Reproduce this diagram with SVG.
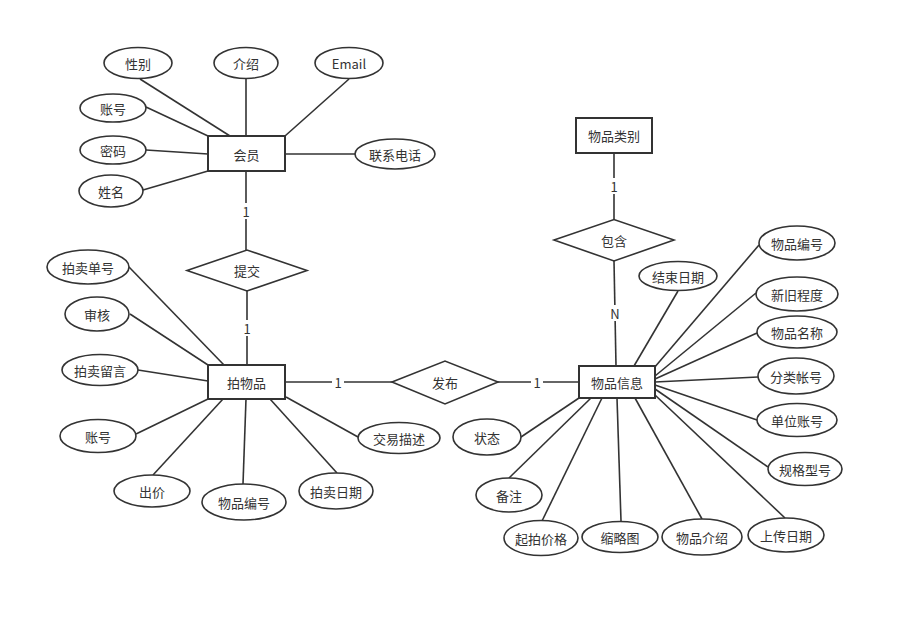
<svg xmlns="http://www.w3.org/2000/svg" width="904" height="618" viewBox="0 0 904 618">
<style>
.e{fill:#fff;stroke:#333;stroke-width:1.6}
.r{fill:#fff;stroke:#333;stroke-width:2}
.d{fill:#fff;stroke:#333;stroke-width:1.6}
.l{stroke:#333;stroke-width:1.6;fill:none}
text{font-family:"Noto Sans CJK SC","Liberation Sans",sans-serif;font-size:13px;fill:#333;text-anchor:middle;dominant-baseline:central}
.lb{fill:#fff;stroke:none}
</style>
<rect width="904" height="618" fill="#fff"/>
<g id="connectors">
<line class="l" x1="140" y1="79" x2="230" y2="136"/>
<line class="l" x1="246" y1="79" x2="246" y2="136"/>
<line class="l" x1="349" y1="79" x2="285" y2="136"/>
<line class="l" x1="146" y1="107" x2="208" y2="136"/>
<line class="l" x1="146" y1="150" x2="208" y2="154"/>
<line class="l" x1="143" y1="190" x2="208" y2="171"/>
<line class="l" x1="285" y1="154" x2="355" y2="154"/>
<line class="l" x1="246" y1="172" x2="246" y2="250"/>
<line class="l" x1="247" y1="291" x2="247" y2="365"/>
<line class="l" x1="129" y1="267" x2="224" y2="365"/>
<line class="l" x1="130" y1="314" x2="208" y2="365"/>
<line class="l" x1="138" y1="370" x2="208" y2="381"/>
<line class="l" x1="136" y1="434" x2="208" y2="399"/>
<line class="l" x1="153" y1="475" x2="223" y2="399"/>
<line class="l" x1="243" y1="484" x2="246" y2="399"/>
<line class="l" x1="337" y1="473" x2="270" y2="399"/>
<line class="l" x1="358" y1="437" x2="286" y2="397"/>
<line class="l" x1="285" y1="382" x2="392" y2="382"/>
<line class="l" x1="498" y1="382" x2="579" y2="382"/>
<line class="l" x1="614" y1="153" x2="614" y2="220"/>
<line class="l" x1="614" y1="261" x2="616" y2="366"/>
<line class="l" x1="678" y1="291" x2="634" y2="366"/>
<line class="l" x1="759" y1="245" x2="654" y2="368"/>
<line class="l" x1="756" y1="293" x2="655" y2="376"/>
<line class="l" x1="757" y1="333" x2="655" y2="379"/>
<line class="l" x1="758" y1="377" x2="655" y2="382"/>
<line class="l" x1="757" y1="420" x2="655" y2="385"/>
<line class="l" x1="768" y1="467" x2="655" y2="389"/>
<line class="l" x1="785" y1="518" x2="655" y2="395"/>
<line class="l" x1="702" y1="519" x2="635" y2="398"/>
<line class="l" x1="621" y1="521" x2="617" y2="398"/>
<line class="l" x1="542" y1="521" x2="602" y2="398"/>
<line class="l" x1="509" y1="478" x2="591" y2="398"/>
<line class="l" x1="521" y1="437" x2="579" y2="398"/>
<rect class="lb" x="240" y="203" width="12" height="16"/>
<text x="246" y="211">1</text>
<rect class="lb" x="241" y="320" width="12" height="16"/>
<text x="247" y="328">1</text>
<rect class="lb" x="332" y="374" width="12" height="16"/>
<text x="338" y="382">1</text>
<rect class="lb" x="531" y="374" width="12" height="16"/>
<text x="537" y="382">1</text>
<rect class="lb" x="608" y="178" width="12" height="16"/>
<text x="614" y="186">1</text>
<rect class="lb" x="608" y="305" width="14" height="16"/>
<text x="615" y="313">N</text>
</g>
<g id="member"><rect class="r" x="208" y="136" width="77" height="35"/><text x="246.5" y="154">会员</text></g>
<g id="member-gender"><ellipse class="e" cx="138" cy="63" rx="34" ry="15.5"/><text x="138" y="63">性别</text></g>
<g id="member-intro"><ellipse class="e" cx="246" cy="63" rx="32" ry="15.5"/><text x="246" y="63">介绍</text></g>
<g id="member-email"><ellipse class="e" cx="349" cy="63" rx="34" ry="15.5"/><text x="349" y="63">Email</text></g>
<g id="member-account"><ellipse class="e" cx="113" cy="108" rx="33" ry="14"/><text x="113" y="108">账号</text></g>
<g id="member-password"><ellipse class="e" cx="113" cy="150" rx="33" ry="14"/><text x="113" y="150">密码</text></g>
<g id="member-name"><ellipse class="e" cx="111" cy="191" rx="32" ry="16"/><text x="111" y="191">姓名</text></g>
<g id="member-phone"><ellipse class="e" cx="395" cy="154" rx="40" ry="15"/><text x="395" y="154">联系电话</text></g>
<g id="submit"><polygon class="d" points="187,270.5 247,250 307,270.5 247,291"/><text x="247" y="270.5">提交</text></g>
<g id="auction"><rect class="r" x="208" y="365" width="77" height="34"/><text x="246.5" y="382">拍物品</text></g>
<g id="auction-no"><ellipse class="e" cx="88" cy="267" rx="41" ry="17"/><text x="88" y="267">拍卖单号</text></g>
<g id="auction-review"><ellipse class="e" cx="97" cy="314" rx="32" ry="17"/><text x="97" y="314">审核</text></g>
<g id="auction-msg"><ellipse class="e" cx="100" cy="370" rx="38" ry="15.5"/><text x="100" y="370">拍卖留言</text></g>
<g id="auction-account"><ellipse class="e" cx="98" cy="436" rx="38" ry="16.5"/><text x="98" y="436">账号</text></g>
<g id="auction-bid"><ellipse class="e" cx="152" cy="491" rx="38" ry="16"/><text x="152" y="491">出价</text></g>
<g id="auction-itemno"><ellipse class="e" cx="244" cy="502" rx="42" ry="18"/><text x="244" y="502">物品编号</text></g>
<g id="auction-date"><ellipse class="e" cx="336" cy="491" rx="37" ry="18"/><text x="336" y="491">拍卖日期</text></g>
<g id="auction-desc"><ellipse class="e" cx="399" cy="438" rx="41" ry="15.5"/><text x="399" y="438">交易描述</text></g>
<g id="publish"><polygon class="d" points="392,382 445,361 498,382 445,404"/><text x="445" y="382">发布</text></g>
<g id="category"><rect class="r" x="576" y="118" width="76" height="35"/><text x="614" y="135.5">物品类别</text></g>
<g id="contain"><polygon class="d" points="554,240 614,219.5 674,240 614,261"/><text x="614" y="240">包含</text></g>
<g id="item"><rect class="r" x="579" y="366" width="76" height="32"/><text x="617" y="382">物品信息</text></g>
<g id="item-enddate"><ellipse class="e" cx="678" cy="276" rx="39" ry="14.5"/><text x="678" y="276">结束日期</text></g>
<g id="item-no"><ellipse class="e" cx="797" cy="243" rx="38" ry="17"/><text x="797" y="243">物品编号</text></g>
<g id="item-condition"><ellipse class="e" cx="797" cy="294" rx="41" ry="17"/><text x="797" y="294">新旧程度</text></g>
<g id="item-name"><ellipse class="e" cx="797" cy="332" rx="40" ry="16"/><text x="797" y="332">物品名称</text></g>
<g id="item-catacct"><ellipse class="e" cx="796" cy="376" rx="38" ry="18"/><text x="796" y="376">分类帐号</text></g>
<g id="item-unitacct"><ellipse class="e" cx="797" cy="420" rx="40" ry="16.5"/><text x="797" y="420">单位账号</text></g>
<g id="item-spec"><ellipse class="e" cx="805" cy="469" rx="37" ry="16.5"/><text x="805" y="469">规格型号</text></g>
<g id="item-upload"><ellipse class="e" cx="786" cy="535" rx="38" ry="17"/><text x="786" y="535">上传日期</text></g>
<g id="item-intro"><ellipse class="e" cx="702" cy="537" rx="40" ry="18"/><text x="702" y="537">物品介绍</text></g>
<g id="item-thumb"><ellipse class="e" cx="620" cy="537" rx="38" ry="15.5"/><text x="620" y="537">缩略图</text></g>
<g id="item-startprice"><ellipse class="e" cx="541" cy="538" rx="37" ry="17.5"/><text x="541" y="538">起拍价格</text></g>
<g id="item-note"><ellipse class="e" cx="509" cy="495" rx="33" ry="17"/><text x="509" y="495">备注</text></g>
<g id="item-status"><ellipse class="e" cx="487" cy="437" rx="34" ry="18"/><text x="487" y="437">状态</text></g>
</svg>
